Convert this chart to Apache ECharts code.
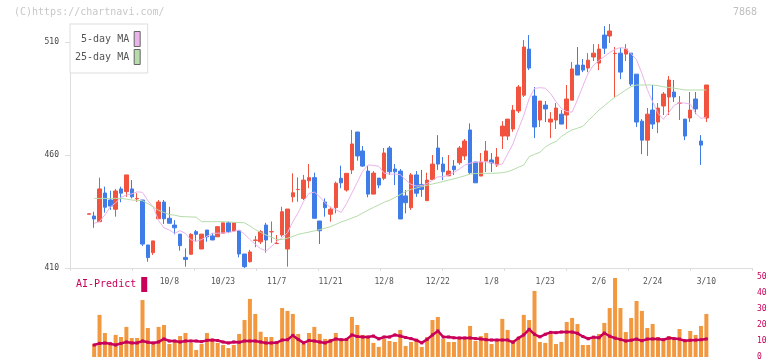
<!DOCTYPE html>
<html><head><meta charset="utf-8">
<script src="https://cdn.jsdelivr.net/npm/echarts@6/dist/echarts.min.js"></script>
<style>html,body{margin:0;padding:0;background:#fff}#c{width:772px;height:361px}</style>
</head><body><div id="c"></div>
<script>
const dates = ['9/16','9/17','9/18','9/19','9/22','9/24','9/25','9/26','9/29','9/30',
'10/1','10/2','10/3','10/6','10/7','10/8','10/9','10/10','10/14','10/15',
'10/16','10/17','10/20','10/21','10/22','10/23','10/24','10/27','10/28','10/29',
'10/30','10/31','11/4','11/5','11/6','11/7','11/10','11/11','11/12','11/13',
'11/14','11/17','11/18','11/19','11/20','11/21','11/25','11/26','11/27','11/28',
'12/1','12/2','12/3','12/4','12/5','12/8','12/9','12/10','12/11','12/12',
'12/15','12/16','12/17','12/18','12/19','12/22','12/23','12/24','12/25','12/26',
'12/29','12/30','1/5','1/6','1/7','1/8','1/9','1/13','1/14','1/15',
'1/16','1/19','1/20','1/21','1/22','1/23','1/26','1/27','1/28','1/29',
'1/30','2/2','2/3','2/4','2/5','2/6','2/9','2/10','2/12','2/13',
'2/16','2/17','2/18','2/19','2/20','2/24','2/25','2/26','2/27','3/2',
'3/3','3/4','3/5','3/6','3/9','3/10'];
const tickLabels = ['10/8','10/23','11/7','11/21','12/8','12/22','1/8','1/23','2/6','2/24','3/10'];
const priceTicks = [410, 460, 510];

const opens = [433.8,433.0,430.5,443.2,440.1,436.0,445.0,443.8,445.0,440.6,
440.1,420.2,416.8,431.8,439.2,432.0,429.0,425.0,414.7,416.1,
426.1,418.4,426.8,424.2,423.8,425.4,430.0,426.4,426.5,416.2,
412.8,422.2,421.6,429.0,426.0,420.8,424.6,418.4,441.5,444.7,
440.8,448.6,450.0,430.8,439.2,433.8,436.7,449.7,444.5,453.4,
470.2,461.8,452.9,442.7,449.8,449.7,463.1,453.8,452.9,441.9,
436.7,451.2,447.0,439.8,449.2,463.1,456.0,450.8,455.1,456.6,
459.6,471.1,456.9,450.7,457.3,457.8,455.6,468.4,468.4,471.5,
479.5,486.5,506.9,486.1,475.5,482.1,474.6,475.5,478.1,477.7,
484.3,499.8,499.8,498.5,503.4,500.7,513.1,512.7,504.9,505.1,
504.7,505.1,495.8,475.0,466.6,479.9,474.6,481.7,485.7,487.9,
482.9,475.9,476.4,484.8,466.2,476.4];
const closes = [434.0,431.7,445.0,436.9,437.4,444.1,443.1,451.2,441.5,440.8,
420.6,414.6,422.0,439.2,431.8,429.8,427.8,419.9,413.8,424.9,
424.9,425.0,423.8,422.4,428.3,430.0,426.1,430.0,416.2,410.6,
417.1,422.4,426.1,422.4,426.1,420.9,434.9,436.1,443.3,444.8,
448.9,450.0,432.0,426.5,436.7,436.0,447.5,447.7,451.9,464.9,
459.6,455.1,442.7,452.0,446.7,460.9,452.6,452.6,431.7,438.9,
451.2,443.1,444.8,448.9,456.0,456.0,452.6,452.9,453.5,463.1,
466.2,452.2,447.7,456.9,461.8,456.5,459.1,472.8,475.9,479.9,
490.1,507.8,498.5,472.4,483.9,480.4,475.9,480.8,473.7,484.8,
498.1,495.4,497.6,502.0,505.1,506.9,507.3,514.9,505.0,496.7,
506.9,491.4,474.6,466.6,478.1,473.7,480.8,487.0,493.2,485.7,
483.0,468.4,479.9,480.4,464.4,491.0];
const lows = [433.8,427.8,430.5,434.5,435.7,432.7,439.1,441.5,440.8,439.3,
419.7,412.8,415.8,431.8,429.5,429.8,424.9,417.7,410.6,415.8,
421.8,418.4,421.6,422.4,423.8,425.4,425.4,426.1,414.7,410.0,
412.4,419.2,420.6,416.8,421.2,420.8,423.8,410.6,439.1,439.3,
440.1,445.3,432.0,420.6,432.7,430.5,434.2,445.3,443.8,451.6,
457.5,454.8,441.3,442.7,445.3,448.9,451.2,446.7,431.7,434.2,
435.7,441.5,441.5,439.8,449.2,453.4,448.9,450.8,451.2,455.7,
457.8,451.5,447.7,450.7,452.5,452.5,454.7,462.7,466.6,470.3,
478.6,485.7,497.6,467.5,472.4,474.6,467.5,471.5,473.7,471.5,
484.3,495.4,496.7,496.7,501.6,497.6,504.7,509.6,485.7,493.6,
501.6,490.5,472.4,460.4,459.6,471.5,469.7,477.7,477.7,483.5,
475.5,466.6,474.6,478.1,455.6,474.6];
const highs = [434.0,434.9,450.0,446.0,444.2,445.0,446.0,451.2,448.9,443.1,
440.1,420.2,422.0,440.1,440.1,437.1,431.2,425.0,418.7,425.4,
426.8,425.0,426.8,425.4,428.3,430.0,430.6,430.0,426.5,416.2,
418.0,424.2,426.8,430.0,430.6,424.6,437.1,436.1,451.9,450.1,
451.2,456.0,452.2,430.8,440.8,437.1,448.2,455.3,451.9,471.1,
470.2,464.0,455.1,452.9,449.8,463.1,464.0,456.0,453.8,444.5,
452.0,452.9,453.4,452.2,460.0,468.8,459.1,460.0,457.8,464.0,
467.1,474.0,456.9,460.9,466.2,460.9,463.1,475.0,475.9,482.1,
491.0,510.9,513.1,490.1,483.9,483.9,479.0,483.0,479.9,491.0,
501.2,507.8,502.5,505.1,509.1,509.1,517.1,518.0,507.8,507.3,
509.1,505.1,495.8,475.9,480.8,491.0,483.0,487.9,495.0,493.2,
486.1,475.9,487.9,487.9,468.8,491.0];
const ma5 = [null,429.8,430.5,433.5,437.0,438.9,441.2,442.3,442.8,443.7,
443.5,439.8,437.0,431.0,427.8,426.8,425.4,426.5,425.3,422.5,
421.8,422.6,424.0,425.4,425.4,425.5,425.7,426.2,426.8,425.0,
422.6,420.5,418.6,417.5,419.5,421.8,423.3,425.6,430.5,434.5,
439.5,443.0,443.6,441.5,438.8,436.8,435.8,434.6,438.5,443.2,
448.0,452.8,455.6,455.4,455.0,452.0,451.6,451.6,451.3,449.0,
447.0,446.3,446.5,447.4,448.8,450.4,450.4,451.2,452.3,453.8,
455.5,456.4,456.8,457.0,457.0,456.6,455.6,456.0,460.5,465.0,
471.5,477.5,485.0,489.5,489.8,489.6,487.2,483.6,480.6,479.2,
479.0,484.5,490.5,496.3,499.8,501.8,503.6,505.4,506.7,507.6,
507.2,504.8,502.2,496.1,489.0,483.5,478.5,475.8,478.8,482.0,
483.1,483.0,482.5,478.5,476.2,476.8];
const ma25 = [null,440.8,440.8,440.8,440.8,440.8,440.8,440.5,440.1,439.9,
439.8,438.5,437.0,435.5,434.6,433.6,433.4,432.8,432.7,432.6,
432.5,430.5,430.5,430.5,430.5,430.5,430.4,430.2,430.1,430.0,
428.6,427.0,425.8,424.6,423.7,422.6,422.6,423.2,424.0,424.9,
425.4,425.9,426.4,427.0,427.6,428.3,429.3,430.4,431.2,432.1,
433.0,434.3,435.6,436.8,437.9,439.1,440.0,441.2,442.5,443.8,
444.8,445.4,446.0,446.6,447.2,447.7,448.3,448.9,449.5,450.1,
450.8,451.6,451.8,451.9,451.9,451.9,452.0,452.2,452.6,453.5,
454.6,455.6,459.3,460.3,461.2,463.5,465.0,466.0,468.2,469.8,
471.1,471.9,472.7,475.2,477.5,479.9,481.8,483.8,485.7,487.2,
488.8,490.3,491.0,491.0,491.0,491.0,490.7,490.2,489.9,489.6,
489.2,488.8,488.8,488.8,488.8,488.8];
const volume = [null,8.1,26.3,15.0,7.5,13.8,12.5,18.8,11.9,11.9,
35.6,18.1,8.1,18.8,20.0,8.1,10.0,13.1,15.0,8.8,
4.4,8.1,15.0,11.3,8.8,7.5,5.6,7.5,14.4,23.1,
36.3,26.9,15.8,12.5,12.5,8.8,30.6,28.8,26.9,14.4,
8.1,15.0,18.8,14.4,11.3,11.3,15.0,11.3,11.3,25.0,
20.0,13.8,13.1,8.8,6.3,11.3,10.0,9.4,16.9,6.9,
9.4,11.3,6.3,12.5,23.1,25.0,11.3,9.4,9.4,11.3,
12.5,19.4,10.0,13.1,15.0,8.1,10.0,23.8,16.9,10.6,
12.5,26.3,23.1,41.3,9.4,8.8,14.4,8.1,9.4,21.9,
24.4,20.6,7.5,7.5,12.5,14.4,21.3,30.6,49.4,30.6,
15.6,24.4,35.0,28.8,18.1,20.6,12.5,11.3,13.1,11.3,
17.5,10.6,16.3,13.8,19.4,26.9];
const aiPredict = [null,7.5,8.5,8.8,8.3,7.5,8.5,9.4,8.8,8.8,
10.0,9.2,8.8,9.4,11.3,10.0,10.0,9.4,10.0,10.0,
10.0,9.6,10.4,10.6,10.3,9.4,8.8,9.4,9.2,10.0,
10.0,10.0,9.4,8.8,8.8,9.0,10.6,10.8,13.5,11.0,
8.8,10.3,10.0,9.4,8.8,10.0,11.3,10.8,11.0,13.8,
12.8,12.5,12.5,13.1,11.3,12.5,12.5,13.8,13.1,12.2,
11.5,10.5,8.8,11.0,13.8,16.3,12.5,12.5,12.0,11.9,
11.9,11.9,11.5,11.3,10.8,10.6,10.6,10.6,10.6,9.2,
11.8,13.8,17.3,14.2,12.6,14.2,15.4,15.2,15.6,15.6,
15.6,14.8,12.8,11.4,12.4,12.0,15.0,13.0,11.8,11.0,
10.0,10.5,11.2,10.2,11.2,11.3,11.3,10.8,11.9,11.5,
11.2,10.2,10.5,10.6,10.8,11.3];

// empty slots before the first and after the last trading day
const LEAD = 3, TRAIL = 8;
const pad = a => [...Array(LEAD).fill('-'), ...a.map(v => v == null ? '-' : v), ...Array(TRAIL).fill('-')];
const cats = [...Array(LEAD).keys()].map(i => 'lead' + i).concat(dates, [...Array(TRAIL).keys()].map(i => 'trail' + i));
const candles = pad(dates.map((d, i) => [opens[i], closes[i], lows[i], highs[i]]));

const MONO = 'DejaVu Sans Mono';
const UP = '#f1533f', DOWN = '#407ce8';
const PINK = '#ebb3eb', GREEN = '#b5dca9', CRIMSON = '#c8005a', ORANGE = '#f2983f';

const chart = echarts.init(document.getElementById('c'), null, {renderer: 'canvas'});
chart.setOption({
  animation: false,
  backgroundColor: '#fff',
  textStyle: {fontFamily: MONO},
  graphic: [
    {type: 'text', left: 14, top: 7, style: {text: '(C)https://chartnavi.com/', fill: '#c8c8c8', font: '10px "DejaVu Sans Mono"'}},
    {type: 'text', right: 15, top: 7, style: {text: '7868', fill: '#c0c0c0', font: '10px "DejaVu Sans Mono"'}}
  ],
  legend: [
    {
      data: ['5-day MA', '25-day MA'], orient: 'vertical', align: 'right',
      left: 70, top: 24, icon: 'rect', itemWidth: 6, itemHeight: 15, itemGap: 2,
      padding: [7, 7, 8, 5], backgroundColor: '#fff', borderColor: '#dddddd', borderWidth: 1,
      itemStyle: {borderColor: '#666', borderWidth: 1},
      formatter: n => n.padStart(9, ' '),
      textStyle: {color: '#555', fontSize: 10, fontFamily: MONO},
      selectedMode: false
    },
    {
      data: ['AI-Predict'], orient: 'horizontal', align: 'right',
      left: 76, top: 277, icon: 'rect', itemWidth: 6, itemHeight: 15, padding: 0,
      textStyle: {color: CRIMSON, fontSize: 10, fontFamily: MONO},
      selectedMode: false
    }
  ],
  grid: [
    {left: 70, right: 20, top: 24, bottom: 93},
    {left: 70, right: 20, top: 277, bottom: 3}
  ],
  xAxis: [
    {
      type: 'category', gridIndex: 0, data: cats, boundaryGap: true,
      axisLine: {show: false}, axisTick: {show: false},
      axisLabel: {interval: (i, v) => tickLabels.includes(v), color: '#555', fontSize: 8, fontFamily: MONO, margin: 10}
    },
    {
      type: 'value', gridIndex: 0, min: 0, max: 11, interval: 1, position: 'bottom',
      axisLine: {show: true, lineStyle: {color: '#dddddd'}},
      axisTick: {show: true, length: 3, lineStyle: {color: '#dddddd'}},
      axisLabel: {show: false}, splitLine: {show: false}
    },
    {type: 'category', gridIndex: 1, data: cats, boundaryGap: true, show: false}
  ],
  yAxis: [
    {
      type: 'value', gridIndex: 0, min: 410, max: 518, interval: 50,
      axisLine: {show: true, lineStyle: {color: '#dddddd'}},
      axisTick: {show: true, length: 5, customValues: priceTicks, lineStyle: {color: '#dddddd'}},
      axisLabel: {customValues: priceTicks, color: '#444', fontSize: 8, fontFamily: MONO, margin: 11},
      splitLine: {show: false}
    },
    {
      type: 'value', gridIndex: 1, min: 0, max: 50, interval: 10, position: 'right',
      axisLine: {show: false}, axisTick: {show: false}, splitLine: {show: false},
      axisLabel: {color: CRIMSON, fontSize: 8, fontFamily: MONO, margin: 5}
    }
  ],
  series: [
    {
      name: 'price', type: 'candlestick', xAxisIndex: 0, yAxisIndex: 0, data: candles, barWidth: 4,
      itemStyle: {color: UP, color0: DOWN, borderColor: UP, borderColor0: DOWN, borderWidth: 1}
    },
    {
      name: '5-day MA', type: 'line', xAxisIndex: 0, yAxisIndex: 0, data: pad(ma5),
      showSymbol: false, symbol: 'none', itemStyle: {color: PINK}, lineStyle: {color: PINK, width: 1}, z: 3
    },
    {
      name: '25-day MA', type: 'line', xAxisIndex: 0, yAxisIndex: 0, data: pad(ma25),
      showSymbol: false, symbol: 'none', itemStyle: {color: GREEN}, lineStyle: {color: GREEN, width: 1}, z: 3
    },
    {
      name: 'volume', type: 'bar', xAxisIndex: 2, yAxisIndex: 1, data: pad(volume), barWidth: 4,
      itemStyle: {color: ORANGE}
    },
    {
      name: 'AI-Predict', type: 'line', xAxisIndex: 2, yAxisIndex: 1, data: pad(aiPredict),
      symbol: 'rect', symbolSize: 3, showSymbol: true,
      itemStyle: {color: CRIMSON}, lineStyle: {color: CRIMSON, width: 2.5}, z: 4
    }
  ]
});
</script></body></html>
